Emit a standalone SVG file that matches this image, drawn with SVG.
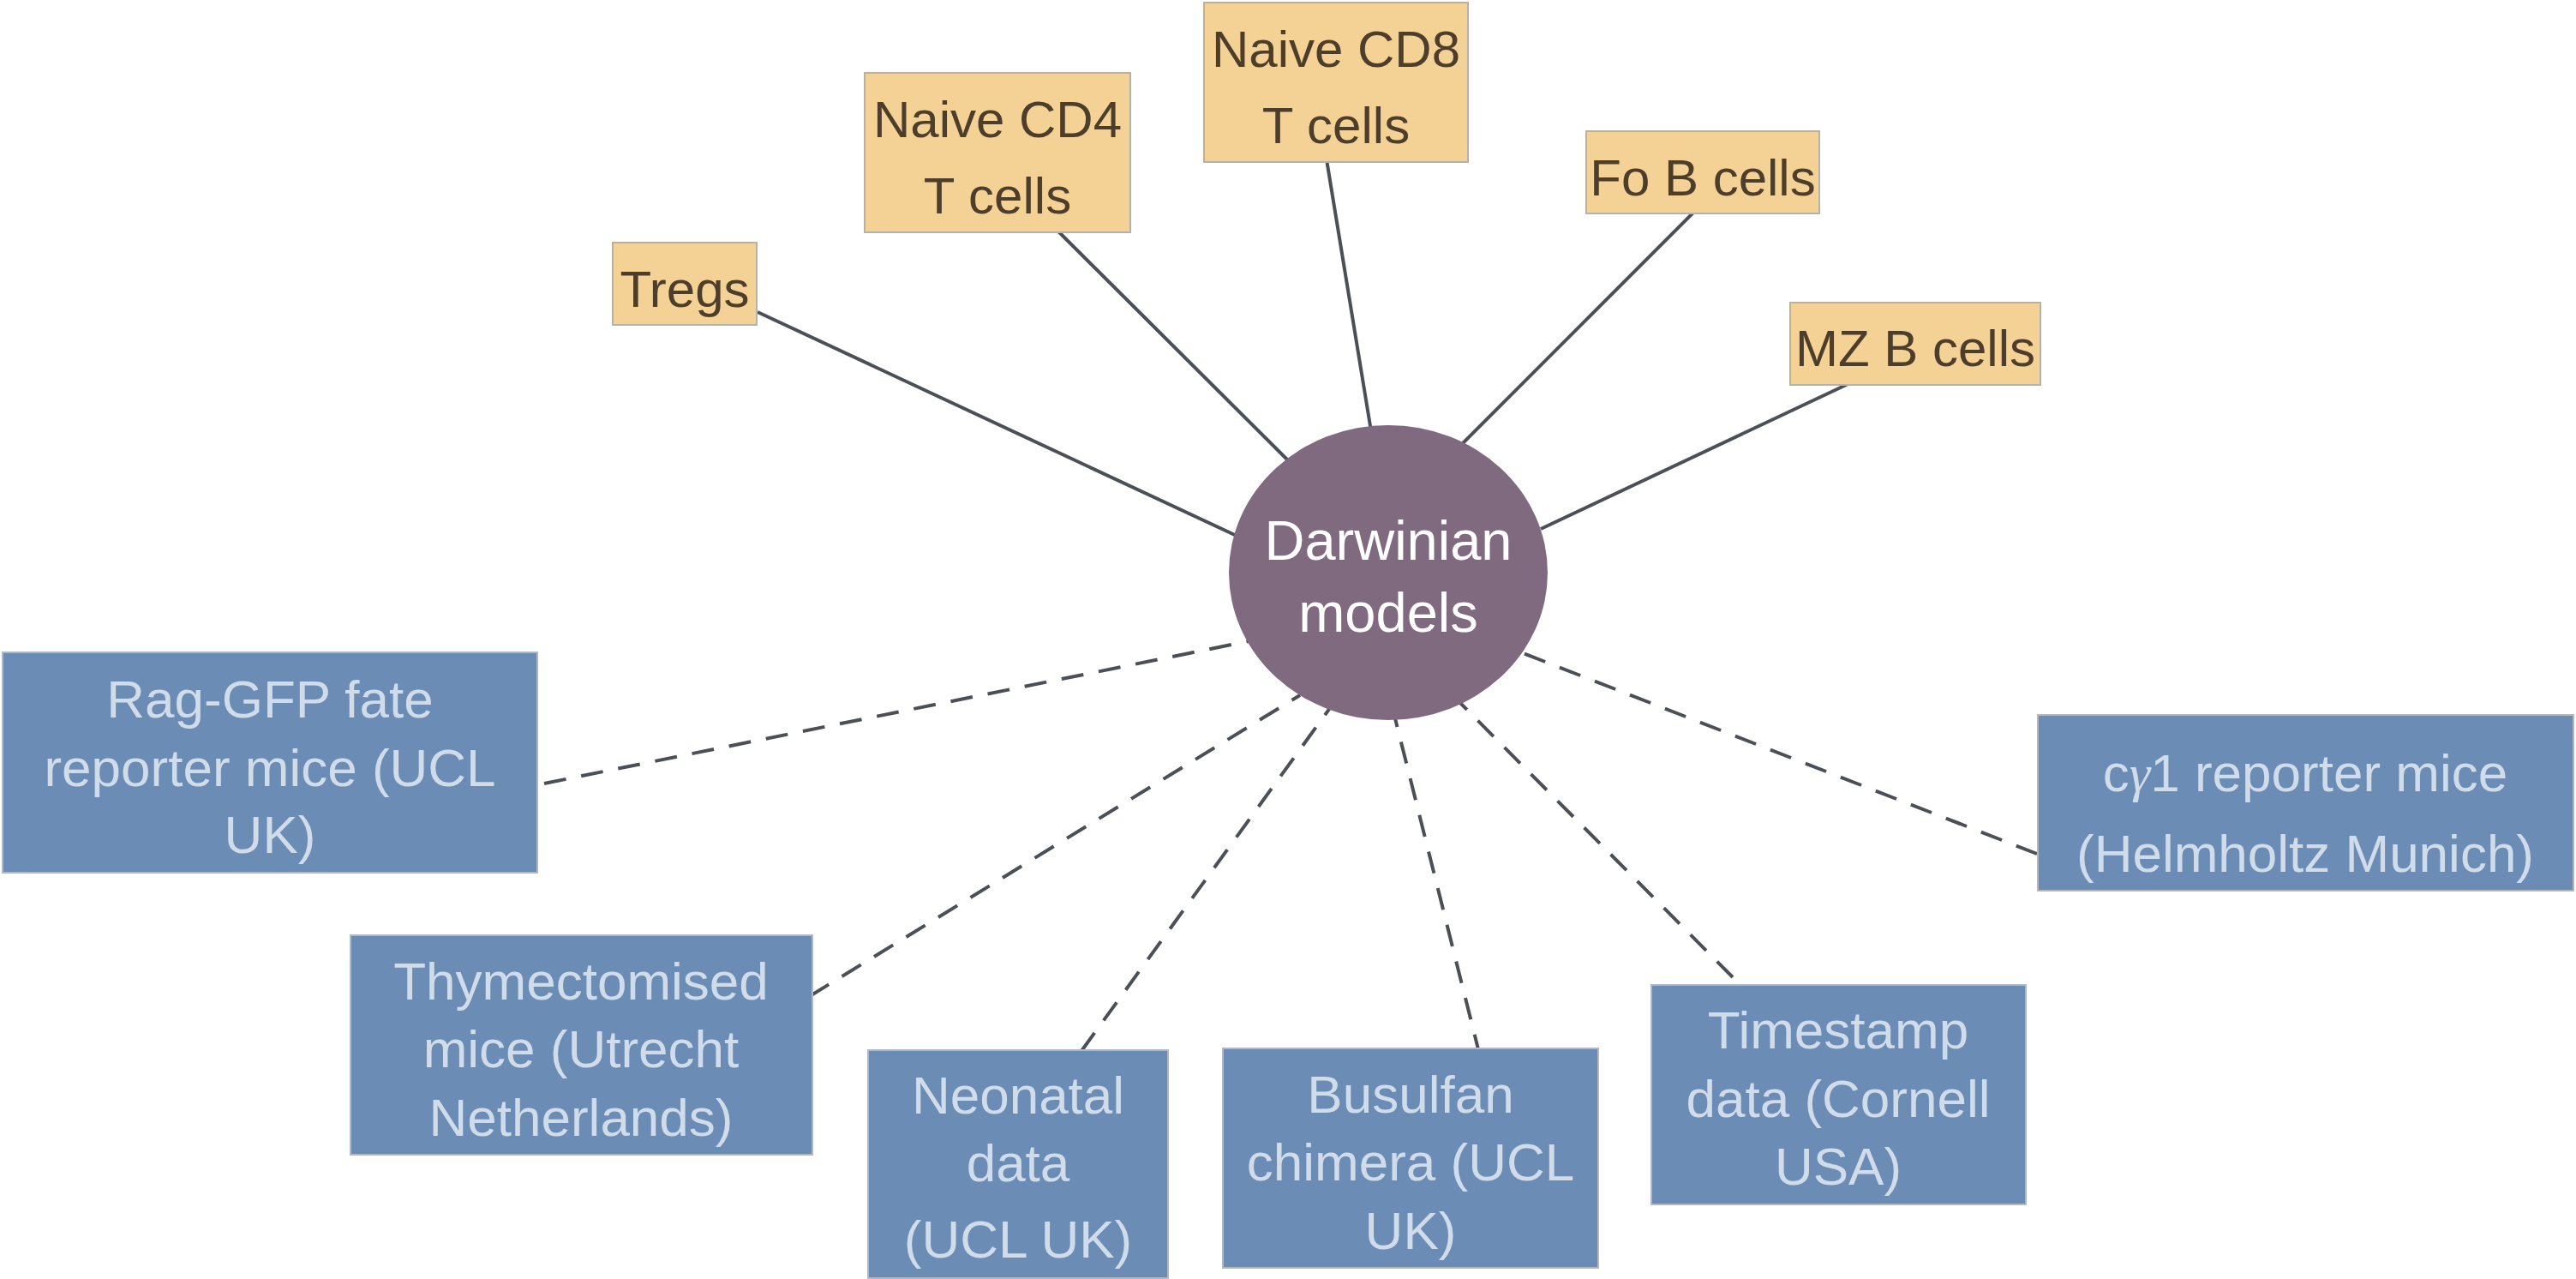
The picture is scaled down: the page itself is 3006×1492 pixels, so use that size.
<svg xmlns="http://www.w3.org/2000/svg" width="3006" height="1492" viewBox="0 0 3006 1492">
<style>
.conn line{stroke:#4b4f56;stroke-width:4;fill:none}
.dash{stroke-dasharray:26 18}
.obox{fill:#f4d296;stroke:#b8b2a6;stroke-width:2}
.bbox{fill:#6b8cb4;stroke:#b3b8c0;stroke-width:2}
.ot{font-family:"Liberation Sans",Arial,sans-serif;font-size:60px;fill:#4c3e2b;text-anchor:middle}
.bt{font-family:"Liberation Sans",Arial,sans-serif;font-size:62px;fill:#d1dcea;text-anchor:middle}
.ct{font-family:"Liberation Sans",Arial,sans-serif;font-size:65px;fill:#ffffff;text-anchor:middle}
</style>
<rect width="3006" height="1492" fill="#ffffff"/>
<g id="connectors" class="conn">
<line x1="884" y1="364" x2="1443" y2="625"/>
<line x1="1226" y1="261" x2="1508" y2="542"/>
<line x1="1547" y1="180" x2="1600" y2="503"/>
<line x1="1979" y1="245" x2="1704" y2="520"/>
<line x1="2167" y1="443" x2="1798" y2="617"/>
<line class="dash" x1="635" y1="914" x2="1457" y2="748"/>
<line class="dash" x1="945" y1="1162" x2="1517" y2="811"/>
<line class="dash" x1="1262" y1="1226" x2="1557" y2="819"/>
<line class="dash" x1="1727" y1="1232" x2="1628" y2="838"/>
<line class="dash" x1="2022" y1="1140" x2="1704" y2="820"/>
<line class="dash" x1="2377" y1="996" x2="1775" y2="761"/>
</g>
<g id="darwinian">
<ellipse cx="1620" cy="668" rx="186" ry="172" fill="#7f6a7f"/>
<text class="ct" x="1620" y="653">Darwinian</text>
<text class="ct" x="1620" y="737">models</text>
</g>
<g id="tregs">
<rect class="obox" x="715" y="283" width="168" height="96"/>
<text class="ot" x="799" y="358">Tregs</text>
</g>
<g id="cd4">
<rect class="obox" x="1009" y="85" width="310" height="186"/>
<text class="ot" x="1164" y="160">Naive CD4</text>
<text class="ot" x="1164" y="249">T cells</text>
</g>
<g id="cd8">
<rect class="obox" x="1405" y="3" width="308" height="186"/>
<text class="ot" x="1559" y="78">Naive CD8</text>
<text class="ot" x="1559" y="167">T cells</text>
</g>
<g id="fob">
<rect class="obox" x="1851" y="153" width="272" height="96"/>
<text class="ot" x="1987" y="228">Fo B cells</text>
</g>
<g id="mzb">
<rect class="obox" x="2089" y="353" width="292" height="96"/>
<text class="ot" x="2235" y="427">MZ B cells</text>
</g>
<g id="raggfp">
<rect class="bbox" x="3" y="761" width="624" height="257"/>
<text class="bt" x="315" y="837">Rag-GFP fate</text>
<text class="bt" x="315" y="917">reporter mice (UCL</text>
<text class="bt" x="315" y="995">UK)</text>
</g>
<g id="thymectomised">
<rect class="bbox" x="409" y="1091" width="539" height="256"/>
<text class="bt" x="678" y="1166">Thymectomised</text>
<text class="bt" x="678" y="1245">mice (Utrecht</text>
<text class="bt" x="678" y="1325">Netherlands)</text>
</g>
<g id="neonatal">
<rect class="bbox" x="1013" y="1225" width="350" height="266"/>
<text class="bt" x="1188" y="1299">Neonatal</text>
<text class="bt" x="1188" y="1378">data</text>
<text class="bt" x="1188" y="1467">(UCL UK)</text>
</g>
<g id="busulfan">
<rect class="bbox" x="1427" y="1223" width="438" height="256"/>
<text class="bt" x="1646" y="1298">Busulfan</text>
<text class="bt" x="1646" y="1377">chimera (UCL</text>
<text class="bt" x="1646" y="1457">UK)</text>
</g>
<g id="timestamp">
<rect class="bbox" x="1927" y="1149" width="437" height="256"/>
<text class="bt" x="2145" y="1223">Timestamp</text>
<text class="bt" x="2145" y="1303">data (Cornell</text>
<text class="bt" x="2145" y="1382">USA)</text>
</g>
<g id="cgamma1">
<rect class="bbox" x="2378" y="834" width="625" height="205"/>
<text class="bt" x="2690" y="923">c<tspan font-family="'Liberation Serif','DejaVu Serif',serif" font-style="italic">γ</tspan>1 reporter mice</text>
<text class="bt" x="2690" y="1017">(Helmholtz Munich)</text>
</g>
</svg>
